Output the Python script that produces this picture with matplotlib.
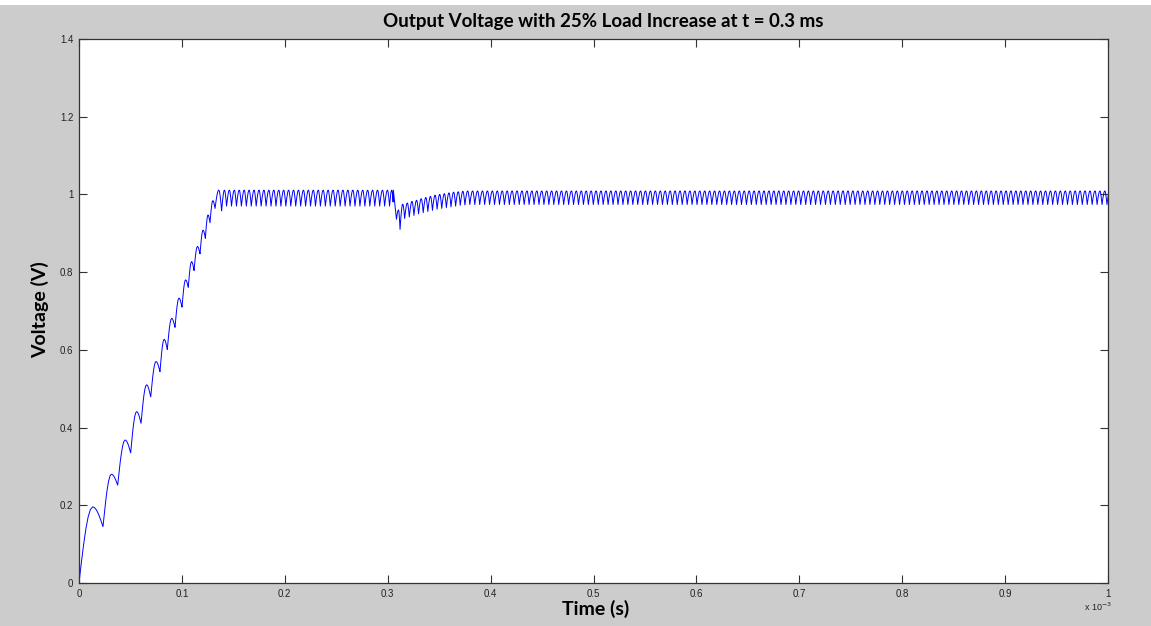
import numpy as np
import matplotlib
matplotlib.use("Agg")
import matplotlib.pyplot as plt
from matplotlib.patches import Rectangle

# ---------------- data (time in ms, voltage in V) ----------------
startup_cusp_t = [0.0, 0.0233, 0.0376, 0.0502, 0.0603, 0.0697, 0.0787, 0.0858,
                  0.0933, 0.1001, 0.1062, 0.1118, 0.1176, 0.1228, 0.1273, 0.1322, 0.1386]
startup_cusp_v = [0.0, 0.145, 0.252, 0.335, 0.411, 0.479, 0.544, 0.601,
                  0.658, 0.710, 0.761, 0.804, 0.847, 0.887, 0.927, 0.964, 0.958]
startup_peak_v = [0.196, 0.280, 0.368, 0.441, 0.510, 0.570, 0.627, 0.681,
                  0.733, 0.780, 0.827, 0.866, 0.908, 0.947, 0.984, 1.011]

ripple_period = 0.0048          # ms
pre_step_top = 1.011
pre_step_bottom = 0.970
step_time = 0.3055

trans_cusp_t = [0.3085, 0.3120, 0.3165, 0.3210, 0.3255, 0.3300, 0.3345, 0.3390,
                0.3435, 0.3480, 0.3525, 0.3570, 0.3615, 0.3660, 0.3705, 0.3750]
trans_cusp_v = [0.936, 0.910, 0.938, 0.942, 0.946, 0.950, 0.953, 0.956,
                0.959, 0.962, 0.964, 0.966, 0.968, 0.970, 0.972, 0.973]
trans_peak_v = [0.960, 0.975, 0.978, 0.982, 0.985, 0.989, 0.992, 0.995,
                0.998, 1.000, 1.002, 1.004, 1.006, 1.007, 1.008]

post_step_top = 1.009
post_step_bottom = 0.974
t_end = 1.0

title_text = "Output Voltage with 25% Load Increase at t = 0.3 ms"
xlabel_text = "Time (s)"
ylabel_text = "Voltage (V)"
xticks = [0, 0.1, 0.2, 0.3, 0.4, 0.5, 0.6, 0.7, 0.8, 0.9, 1.0]
yticks = [0, 0.2, 0.4, 0.6, 0.8, 1.0, 1.2, 1.4]
xtick_labels = ["0", "0.1", "0.2", "0.3", "0.4", "0.5", "0.6", "0.7", "0.8", "0.9", "1"]
ytick_labels = ["0", "0.2", "0.4", "0.6", "0.8", "1", "1.2", "1.4"]

# ---------------- build waveform from cycles ----------------
fp = 0.57
fr = np.linspace(0, 1, 7)


def arc(ta, va, tb, vb, vp):
    ts, vs = [], []
    tp = ta + fp * (tb - ta)
    for f in fr[:-1]:
        ts.append(ta + f * (tp - ta))
        vs.append(va + (vp - va) * np.sin(np.pi / 2 * f))
    for f in fr[:-1]:
        ts.append(tp + f * (tb - tp))
        vs.append(vp - (vp - vb) * (1 - np.cos(np.pi / 2 * f)))
    return ts, vs


T, V = [], []
for i in range(len(startup_peak_v)):
    a, b = arc(startup_cusp_t[i], startup_cusp_v[i], startup_cusp_t[i + 1],
               startup_cusp_v[i + 1], startup_peak_v[i])
    T += a; V += b

# steady state before the load step
cycle_starts = np.arange(startup_cusp_t[-1], step_time - ripple_period * 0.5, ripple_period)
prev_v = startup_cusp_v[-1]
for k, ta in enumerate(cycle_starts):
    tb = min(ta + ripple_period, step_time)
    a, b = arc(ta, prev_v, tb, pre_step_bottom, pre_step_top)
    T += a; V += b
    prev_v = pre_step_bottom

# step: last top then drop
T.append(step_time); V.append(pre_step_top)
T.append(trans_cusp_t[0]); V.append(trans_cusp_v[0])
for i in range(len(trans_peak_v)):
    a, b = arc(trans_cusp_t[i], trans_cusp_v[i], trans_cusp_t[i + 1],
               trans_cusp_v[i + 1], trans_peak_v[i])
    T += a; V += b

cycle_starts = np.arange(trans_cusp_t[-1], t_end, ripple_period)
prev_v = trans_cusp_v[-1]
for ta in cycle_starts:
    tb = ta + ripple_period
    a, b = arc(ta, prev_v, tb, post_step_bottom, post_step_top)
    T += a; V += b
    prev_v = post_step_bottom
T.append(t_end + ripple_period); V.append(post_step_bottom)

T = np.array(T); V = np.array(V)

# ---------------- figure ----------------
W, H = 1151, 626
fig = plt.figure(figsize=(W / 100, H / 100), dpi=100, facecolor="#cccccc")
ax = fig.add_axes([79 / W, 1 - 583 / H, (1108 - 79) / W, (583 - 39) / H])
ax.set_facecolor("white")
ax.plot(T, V, color="#0000ff", lw=0.7, antialiased=True)
ax.set_xlim(0, 1.0)
ax.set_ylim(0, 1.4)
ax.set_xticks(xticks)
ax.set_yticks(yticks)
ax.set_xticklabels(xtick_labels)
ax.set_yticklabels(ytick_labels)
ax.tick_params(direction="in", length=6, width=0.8, color="#333333",
               labelsize=7, labelcolor="#222222", top=True, right=True, pad=4)
for lab in ax.get_xticklabels() + ax.get_yticklabels():
    lab.set_family("Liberation Sans")
for s in ax.spines.values():
    s.set_color("#333333")
    s.set_linewidth(0.9)

fig.text(603 / W, 1 - 22 / H, title_text, ha="center", va="center",
         fontsize=13.5, fontweight="bold", family="Lato", color="black")
fig.text(596 / W, 1 - 609 / H, xlabel_text, ha="center", va="center",
         fontsize=14, fontweight="bold", family="Lato", color="black")
fig.text(40 / W, 1 - 310 / H, ylabel_text, ha="center", va="center", rotation=90,
         fontsize=14, fontweight="bold", family="Lato", color="black")
fig.text(1098 / W, 1 - 607 / H, r"x 10$^{-3}$", ha="center", va="center",
         fontsize=6.5, family="Liberation Sans", color="#222222")

# white strip at top edge
fig.patches.append(Rectangle((0, 1 - 5 / H), 1, 5 / H, transform=fig.transFigure,
                             facecolor="white", edgecolor="none", zorder=-1))

fig.savefig("out.png", dpi=100, facecolor=fig.get_facecolor())
